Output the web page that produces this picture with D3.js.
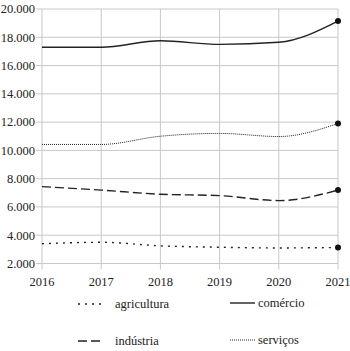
<!DOCTYPE html>
<html><head><meta charset="utf-8">
<script src="https://cdn.jsdelivr.net/npm/d3@7"></script>
<style>body{margin:0;background:#fff}svg{display:block}text{font-family:"Liberation Serif","DejaVu Serif","Noto Serif",serif;font-size:12.5px;fill:#222}</style>
</head><body>
<script>
const years = [2016, 2017, 2018, 2019, 2020, 2021];
const agricultura = [3400, 3500, 3250, 3150, 3100, 3130];
const industria = [7440, 7190, 6900, 6800, 6450, 7190];
const comercio = [17300, 17300, 17750, 17500, 17650, 19150];
const servicos = [10420, 10420, 11000, 11200, 10980, 11900];
const yTicks = [2000, 4000, 6000, 8000, 10000, 12000, 14000, 16000, 18000, 20000];

const W = 350, H = 351;
const svg = d3.select("body").append("svg").attr("width", W).attr("height", H);
const x = d3.scaleLinear().domain([2016, 2021]).range([42, 338]);
const y = d3.scaleLinear().domain([2000, 20000]).range([263.5, 9]);
const fmtY = v => { const s = String(v); return s.slice(0, s.length-3) + "." + s.slice(-3); };

// grid
const g = svg.append("g");
g.selectAll(".hg").data(yTicks).join("line")
  .attr("x1", 36).attr("x2", x(2021)).attr("y1", d => y(d)).attr("y2", d => y(d))
  .attr("stroke", "#c8c8c8").attr("stroke-width", 1);
g.selectAll(".vg").data(years).join("line")
  .attr("x1", d => x(d)).attr("x2", d => x(d)).attr("y1", y(20000)).attr("y2", y(2000) + 6)
  .attr("stroke", "#c8c8c8").attr("stroke-width", 1);
// labels
g.selectAll(".yl").data(yTicks).join("text")
  .attr("x", 35).attr("y", d => y(d)).attr("dy", "0.35em").attr("text-anchor", "end")
  .text(fmtY);
g.selectAll(".xl").data(years).join("text")
  .attr("x", d => x(d)).attr("y", 286).attr("text-anchor", "middle")
  .text(d => d);

const series = [
  {name: "agricultura", vals: agricultura, dash: "2,5", w: 1.4},
  {name: "comércio", vals: comercio, dash: null, w: 1.4},
  {name: "indústria", vals: industria, dash: "9,4", w: 1.4},
  {name: "serviços", vals: servicos, dash: "1,1", w: 1}
];
const line = d3.line().x((d, i) => x(years[i])).y(d => y(d)).curve(d3.curveMonotoneX);
series.forEach(s => {
  svg.append("path").attr("d", line(s.vals)).attr("fill", "none")
    .attr("stroke", "#222").attr("stroke-width", s.w)
    .attr("stroke-dasharray", s.dash);
  svg.append("circle").attr("cx", x(years[5])).attr("cy", y(s.vals[5])).attr("r", 3).attr("fill", "#111");
});

// legend
const leg = [
  {s: series[0], lx: 78, ly: 304},
  {s: series[1], lx: 230, ly: 303},
  {s: series[2], lx: 78, ly: 341},
  {s: series[3], lx: 230, ly: 340}
];
leg.forEach(l => {
  svg.append("line").attr("x1", l.lx).attr("x2", l.lx + 25).attr("y1", l.ly).attr("y2", l.ly)
    .attr("stroke", "#222").attr("stroke-width", l.s.w).attr("stroke-dasharray", l.s.dash);
  svg.append("text").attr("x", l.lx + (l.lx < 100 ? 37 : 28)).attr("y", l.ly).attr("dy", "0.3em")
    .text(l.s.name);
});
</script>
</body></html>
